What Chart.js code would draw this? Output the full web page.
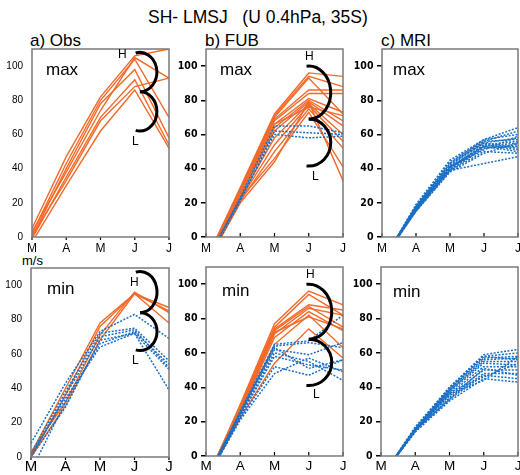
<!doctype html>
<html lang="en">
<head>
<meta charset="utf-8">
<title>SH- LMSJ (U 0.4hPa, 35S)</title>
<script src="https://cdn.jsdelivr.net/npm/chart.js"></script>
<style>
  body { margin: 0; background: #fff; overflow: hidden; font-family: "Liberation Sans", Arial, sans-serif; }
  #page { position: relative; width: 520px; height: 475px; }
  .lbl { position: absolute; line-height: 1; white-space: pre; color: #000; }
  canvas { position: absolute; }
</style>
</head>
<body>
<div id="page">
  <div class="lbl" style="left:148px; top:8.5px; font-size:17.5px;">SH- LMSJ   (U 0.4hPa, 35S)</div>
  <div class="lbl" style="left:30px; top:32px; font-size:17px;">a) Obs</div>
  <div class="lbl" style="left:205px; top:32px; font-size:17px;">b) FUB</div>
  <div class="lbl" style="left:381px; top:32px; font-size:17px;">c) MRI</div>
  <div class="lbl" style="left:22px; top:254px; font-size:13px;">m/s</div>

  <canvas id="cA"></canvas>
  <canvas id="cB"></canvas>
  <canvas id="cC"></canvas>
  <canvas id="cD"></canvas>
  <canvas id="cE"></canvas>
  <canvas id="cF"></canvas>

  <!-- texte dans les graphes -->
  <div class="lbl" style="left:46px; top:61px; font-size:17px;">max</div>
  <div class="lbl" style="left:220px; top:61px; font-size:17px;">max</div>
  <div class="lbl" style="left:393px; top:61px; font-size:17px;">max</div>
  <div class="lbl" style="left:47px; top:280px; font-size:17px;">min</div>
  <div class="lbl" style="left:222px; top:282px; font-size:17px;">min</div>
  <div class="lbl" style="left:393px; top:283px; font-size:17px;">min</div>

  <div class="lbl" style="left:118px; top:48px; font-size:12px;">H</div>
  <div class="lbl" style="left:132px; top:135px; font-size:12px;">L</div>
  <div class="lbl" style="left:305px; top:50px; font-size:12px;">H</div>
  <div class="lbl" style="left:312px; top:170px; font-size:12px;">L</div>
  <div class="lbl" style="left:130px; top:276px; font-size:12px;">H</div>
  <div class="lbl" style="left:132px; top:354px; font-size:12px;">L</div>
  <div class="lbl" style="left:306px; top:268px; font-size:12px;">H</div>
  <div class="lbl" style="left:313px; top:388px; font-size:12px;">L</div>
</div>

<script>
// mois (mars -> juillet)
const months = ['M', 'A', 'M', 'J', 'J'];
const yMax = 110;
const yStep = 20;

// a) Obs max
const obsMaxRed = [
  [5, 47, 82, 106, 110],
  [2, 43, 80, 104, 70],
  [0, 40, 78, 98, 58],
  [3, 38, 74, 105, 93],
  [-1, 35, 70, 92, 54],
  [1, 33, 68, 88, 93],
  [-3, 30, 62, 86, 52]
];

// d) Obs min
const obsMinRed = [
  [2, 40, 78, 95, 87],
  [0, 36, 76, 95, 85],
  [3, 32, 71, 96, 84],
  [0, 30, 68, 95, 78]
];
const obsMinBlue = [
  [8, 43, 73, 83, 69],
  [2, 38, 72, 75, 56],
  [0, 36, 70, 74, 52],
  [-8, 32, 66, 73, 54],
  [1, 34, 64, 72, 51],
  [0, 29, 68, 72, 39]
];

// b) FUB max
const fubMaxRed = [
  [-14, 29, 72, 96, 94],
  [-13, 28, 71, 94, 88],
  [-15, 27, 70, 93, 72],
  [-14, 27, 69, 86, 86],
  [-16, 26, 68, 84, 84],
  [-13, 25, 66, 81, 73],
  [-15, 24, 64, 80, 68],
  [-14, 24, 62, 79, 65],
  [-16, 23, 58, 78, 60],
  [-15, 22, 54, 77, 56],
  [-17, 21, 50, 75, 52],
  [-15, 22, 46, 73, 41],
  [-16, 20, 44, 79, 33],
  [-14, 26, 66, 76, 71]
];
const fubMaxBlue = [
  [-15, 23, 65, 65, 61],
  [-14, 22, 60, 58, 59],
  [-16, 21, 62, 61, 60]
];

// e) FUB min
const fubMinRed = [
  [-15, 30, 77, 96, 88],
  [-14, 29, 75, 94, 82],
  [-16, 28, 74, 88, 85],
  [-15, 27, 73, 87, 75],
  [-14, 26, 71, 86, 82],
  [-16, 25, 69, 84, 73],
  [-15, 24, 65, 82, 63],
  [-14, 22, 54, 74, 57],
  [-15, 26, 72, 81, 74]
];
const fubMinBlue = [
  [-14, 26, 65, 67, 82],
  [-13, 25, 64, 66, 63],
  [-15, 24, 62, 59, 66],
  [-14, 25, 63, 51, 56],
  [-13, 23, 60, 55, 44],
  [-14, 22, 52, 47, 56],
  [-15, 23, 58, 53, 50],
  [-14, 21, 48, 57, 49]
];

// c) MRI max
const mriMax = [
  [-15, 19, 45, 57, 64],
  [-15, 18, 44, 56, 62],
  [-14, 18, 43, 57, 60],
  [-14, 17, 43, 55, 58],
  [-15, 17, 42, 56, 57],
  [-14, 16, 41, 54, 56],
  [-15, 17, 41, 53, 55],
  [-14, 16, 40, 52, 54],
  [-15, 18, 42, 55, 52],
  [-14, 17, 40, 53, 50],
  [-13, 16, 39, 50, 49],
  [-14, 17, 39, 52, 53],
  [-14, 15, 38, 49, 55],
  [-13, 15, 39, 43, 47],
  [-15, 16, 41, 51, 59],
  [-14, 16, 40, 54, 51]
];

// f) MRI min
const mriMin = [
  [-13, 17, 40, 59, 62],
  [-13, 16, 40, 58, 60],
  [-12, 16, 39, 57, 58],
  [-13, 16, 38, 56, 57],
  [-12, 15, 38, 55, 55],
  [-13, 16, 37, 54, 53],
  [-12, 15, 36, 52, 52],
  [-13, 15, 35, 50, 50],
  [-12, 14, 34, 48, 48],
  [-13, 15, 33, 47, 45],
  [-12, 14, 32, 45, 43],
  [-13, 16, 39, 58, 56],
  [-12, 15, 37, 46, 54],
  [-13, 15, 36, 44, 58],
  [-12, 15, 33, 51, 47]
];

const ORANGE = '#f26a2a';
const BLUE = '#1a6fc4';

// cadre, petits traits sur l'axe x et accolades H/L
const framePlugin = {
  id: 'frame',
  afterDatasetsDraw(chart, args, opts) {
    const ctx = chart.ctx;
    const a = chart.chartArea;
    const x = chart.scales.x, y = chart.scales.y;
    ctx.save();
    ctx.strokeStyle = '#000';
    ctx.lineWidth = 1.2;
    months.forEach((m, i) => {
      const px = x.getPixelForValue(i);
      ctx.beginPath();
      ctx.moveTo(px, a.bottom);
      ctx.lineTo(px, a.bottom + opts.xTick);
      ctx.stroke();
    });
    ctx.strokeStyle = '#7a7a7a';
    ctx.lineWidth = 1.5;
    ctx.strokeRect(a.left, a.top, a.right - a.left, a.bottom - a.top);

    const b = opts.bracket;
    if (b) {
      const cx = x.getPixelForValue(b.x);
      const yT = y.getPixelForValue(b.top);
      const yM = y.getPixelForValue(b.mid);
      const yB = y.getPixelForValue(b.bot);
      ctx.strokeStyle = '#000';
      ctx.lineWidth = 3;
      ctx.beginPath();
      ctx.ellipse(cx, (yT + yM) / 2, b.rx, (yM - yT) / 2, 0, -Math.PI / 2 - b.ext, Math.PI / 2);
      ctx.stroke();
      ctx.beginPath();
      ctx.ellipse(cx, (yM + yB) / 2, b.rx, (yB - yM) / 2, 0, -Math.PI / 2, Math.PI / 2 + b.ext);
      ctx.stroke();
    }
    ctx.restore();
  }
};

function lines(rows, color, dotted) {
  return rows.map(r => ({
    data: r,
    borderColor: color,
    borderWidth: dotted ? 1.5 : 1.4,
    borderDash: dotted ? [2, 1.5] : [],
    pointRadius: 0,
    fill: false,
    tension: 0
  }));
}

function makePanel(id, box, datasets, opt) {
  const cv = document.getElementById(id);
  const W = (box.r - box.l) + 34 + 8;
  const H = (box.b - box.t) + 6 + 22;
  cv.width = W;
  cv.height = H;
  cv.style.width = W + 'px';
  cv.style.height = H + 'px';
  cv.style.left = (box.l - 34) + 'px';
  cv.style.top = (box.t - 6) + 'px';

  const bold = opt.bold;
  return new Chart(cv, {
    type: 'line',
    data: { labels: months, datasets: datasets },
    options: {
      responsive: false,
      animation: false,
      layout: { padding: { top: 6, right: 8, bottom: 0, left: 0 } },
      plugins: {
        legend: { display: false },
        tooltip: { enabled: false },
        frame: { xTick: opt.xTick, bracket: opt.bracket }
      },
      scales: {
        x: {
          offset: false,
          grid: { display: false, drawTicks: false },
          border: { display: false },
          ticks: {
            color: '#000',
            padding: opt.xPad,
            maxRotation: 0,
            autoSkip: false,
            font: { family: '"Liberation Sans", Arial, sans-serif', size: opt.xSize }
          },
          afterFit: s => { s.height = 22; s.paddingLeft = 0; s.paddingRight = 0; }
        },
        y: {
          min: 0,
          max: yMax,
          grid: bold
            ? { display: true, drawOnChartArea: false, drawTicks: true, tickLength: 5, color: '#000', lineWidth: 1.5 }
            : { display: false, drawTicks: false },
          border: { display: false },
          ticks: {
            stepSize: yStep,
            color: '#000',
            padding: bold ? 3.5 : 9,
            font: bold
              ? { family: '"Liberation Sans Narrow", "DejaVu Sans Condensed", sans-serif', size: 10.5, weight: 'bold' }
              : { family: '"Liberation Sans", Arial, sans-serif', size: 10 }
          },
          afterBuildTicks: s => { s.ticks = s.ticks.filter(t => t.value <= 100); },
          afterFit: s => { s.width = 34; s.paddingTop = 0; s.paddingBottom = 0; }
        }
      }
    },
    plugins: [framePlugin]
  });
}

makePanel('cA', { l: 32, t: 49, r: 169, b: 237 },
  lines(obsMaxRed, ORANGE, false),
  { bold: false, xTick: 3, xPad: 4, xSize: 12,
    bracket: { x: 3.15, rx: 17, top: 108, mid: 85, bot: 62, ext: 0.25 } });

makePanel('cB', { l: 206, t: 49, r: 343, b: 237 },
  lines(fubMaxBlue, BLUE, true).concat(lines(fubMaxRed, ORANGE, false)),
  { bold: true, xTick: -4, xPad: 4, xSize: 12,
    bracket: { x: 3.0, rx: 22, top: 100, mid: 69, bot: 41.5, ext: 0.1 } });

makePanel('cC', { l: 382, t: 49, r: 518, b: 237 },
  lines(mriMax, BLUE, true),
  { bold: true, xTick: -4, xPad: 4, xSize: 12, bracket: null });

makePanel('cD', { l: 31, t: 268, r: 169, b: 457 },
  lines(obsMinBlue, BLUE, true).concat(lines(obsMinRed, ORANGE, false)),
  { bold: false, xTick: 3, xPad: 1, xSize: 15,
    bracket: { x: 3.16, rx: 17, top: 108, mid: 84, bot: 62, ext: 0.25 } });

makePanel('cE', { l: 206, t: 267, r: 343, b: 456 },
  lines(fubMinBlue, BLUE, true).concat(lines(fubMinRed, ORANGE, false)),
  { bold: true, xTick: -4, xPad: 2, xSize: 13.5,
    bracket: { x: 3.0, rx: 23, top: 100, mid: 68, bot: 41, ext: 0.1 } });

makePanel('cF', { l: 381, t: 267, r: 518, b: 456 },
  lines(mriMin, BLUE, true),
  { bold: true, xTick: -4, xPad: 2, xSize: 13.5, bracket: null });
</script>
</body>
</html>
